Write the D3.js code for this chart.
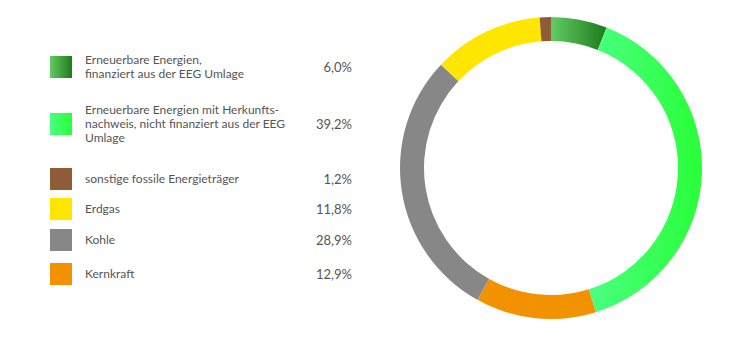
<!DOCTYPE html>
<html>
<head>
<meta charset="utf-8">
<script src="https://cdn.jsdelivr.net/npm/d3@7"></script>
<style>
  html, body { margin: 0; padding: 0; background: #fff; }
  svg { display: block; font-family: Lato, "Open Sans", sans-serif; }
</style>
</head>
<body>
<svg id="chart" width="750" height="337"></svg>
<script>
// Data
const categories = [
  "Erneuerbare Energien,\nfinanziert aus der EEG Umlage",
  "Erneuerbare Energien mit Herkunfts-\nnachweis, nicht finanziert aus der EEG\nUmlage",
  "sonstige fossile Energieträger",
  "Erdgas",
  "Kohle",
  "Kernkraft"
];
const values = [6.0, 39.2, 1.2, 11.8, 28.9, 12.9];
const valueLabels = ["6,0%", "39,2%", "1,2%", "11,8%", "28,9%", "12,9%"];
// order of segments clockwise from 12 o'clock (indices into categories)
const donutOrder = [0, 1, 5, 4, 3, 2];

// Styles
const fills = [
  ["#62cc62", "#1d7a1d"],
  ["#4bff82", "#29ff38"],
  ["#8f5c38", "#8f5c38"],
  ["#ffe600", "#ffe600"],
  ["#878787", "#878787"],
  ["#f39200", "#f39200"]
];
const legendRowY = [67, 124, 179, 209, 240, 274];

const svg = d3.select("#chart");
const defs = svg.append("defs");
fills.forEach((c, i) => {
  const g = defs.append("linearGradient").attr("id", "g" + i)
    .attr("x1", 0).attr("y1", 0).attr("x2", 1).attr("y2", 0);
  g.append("stop").attr("offset", "0%").attr("stop-color", c[0]);
  g.append("stop").attr("offset", "100%").attr("stop-color", c[1]);
});

// Donut
const cx = 551, cy = 168, rOuter = 151, rInner = 127;
const pie = d3.pie().sort(null).value(d => values[d]);
const arc = d3.arc().innerRadius(rInner).outerRadius(rOuter);
const donut = svg.append("g").attr("transform", `translate(${cx},${cy})`);
donut.selectAll("path")
  .data(pie(donutOrder))
  .join("path")
  .attr("d", arc)
  .attr("fill", d => `url(#g${d.data})`);

// Legend
const legend = svg.append("g");
const lineH = 14;
categories.forEach((label, i) => {
  const y = legendRowY[i];
  legend.append("rect")
    .attr("x", 50).attr("y", y - 11).attr("width", 22).attr("height", 22)
    .attr("fill", `url(#g${i})`);
  const lines = label.split("\n");
  const t = legend.append("text")
    .attr("x", 85)
    .attr("font-size", 12)
    .attr("fill", "#555");
  lines.forEach((ln, j) => {
    t.append("tspan")
      .attr("x", 85)
      .attr("y", y - (lines.length - 1) * lineH / 2 + j * lineH)
      .attr("dy", "0.35em")
      .text(ln);
  });
  legend.append("text")
    .attr("x", 352).attr("y", y).attr("dy", "0.35em")
    .attr("text-anchor", "end")
    .attr("font-size", 13)
    .attr("fill", "#555")
    .text(valueLabels[i]);
});
</script>
</body>
</html>
